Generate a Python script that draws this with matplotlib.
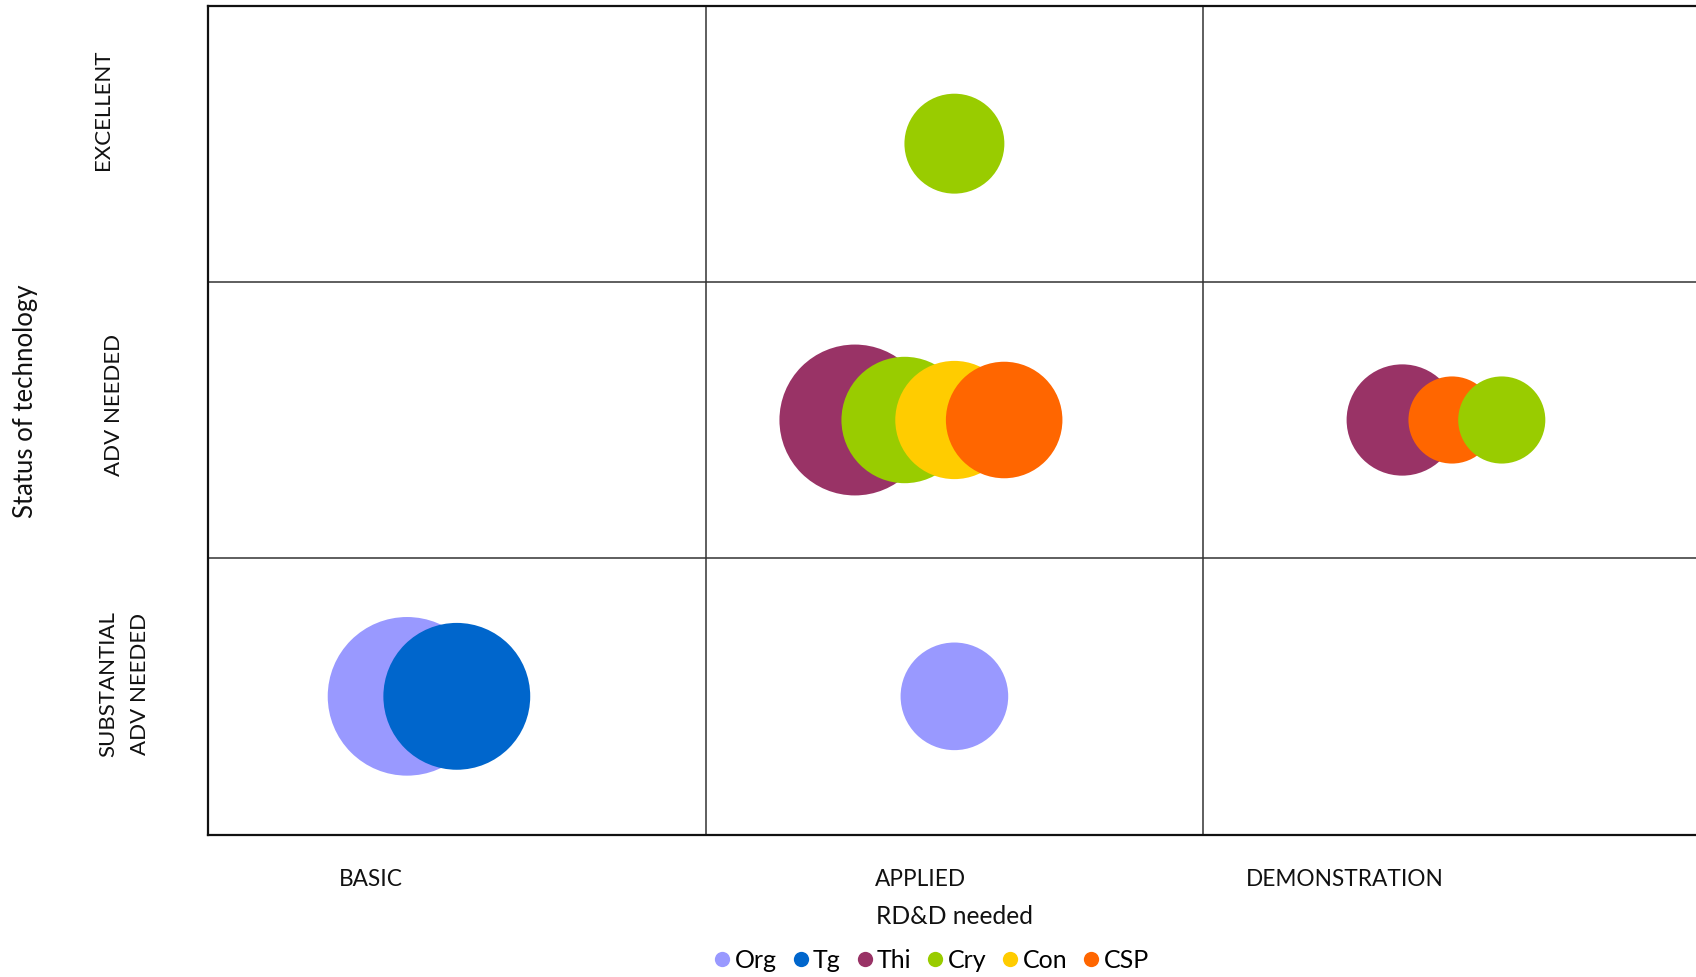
import matplotlib
matplotlib.use("Agg")
import matplotlib.pyplot as plt
from matplotlib.lines import Line2D

# Technology series
series = ["Org", "Tg", "Thi", "Cry", "Con", "CSP"]
colors = ["#9999FF", "#0066CC", "#993366", "#99CC00", "#FFCC00", "#FF6600"]

# Bubble positions (x: RD&D needed, y: status) and bubble sizes per series
org_x, org_y, org_size = [0.4, 1.5], [0.5, 0.5], [6.3, 2.9]
tg_x, tg_y, tg_size = [0.5], [0.5], [5.4]
thi_x, thi_y, thi_size = [1.3, 2.4], [1.5, 1.5], [5.7, 3.1]
cry_x, cry_y, cry_size = [1.5, 1.4, 2.6], [2.5, 1.5, 1.5], [2.5, 4.0, 1.9]
con_x, con_y, con_size = [1.5], [1.5], [3.5]
csp_x, csp_y, csp_size = [1.6, 2.5], [1.5, 1.5], [3.4, 1.9]

x_categories = ["BASIC", "APPLIED", "DEMONSTRATION"]
y_categories = ["EXCELLENT", "ADV NEEDED", "SUBSTANTIAL\nADV NEEDED"]
x_title = "RD&D needed"
y_title = "Status of technology"

W, H, DPI = 1696, 978, 100
FONT = "Lato"
TXT = "#111111"

fig = plt.figure(figsize=(W / DPI, H / DPI), dpi=DPI)
fig.patch.set_facecolor("white")

# plot area (extends slightly past the right edge of the canvas)
left_px, top_px, bottom_px, cell_px = 208, 6.5, 835.5, 497.6
ax = fig.add_axes([left_px / W, 1 - bottom_px / H,
                   3 * cell_px / W, (bottom_px - top_px) / H])
ax.set_xlim(0, 3)
ax.set_ylim(0, 3)
ax.set_xticks([])
ax.set_yticks([])
for sp in ax.spines.values():
    sp.set_color("#111111")
    sp.set_linewidth(1.6)
for v in (1, 2):
    ax.axvline(v, color="#333333", lw=1.1, zorder=0)
    ax.axhline(v, color="#333333", lw=1.1, zorder=0)

# bubble size -> marker area (radius in px proportional to sqrt(size))
px_per_pt = DPI / 72.0
def marker_area(size):
    diam_px = 2 * 31.6 * size ** 0.5
    return (diam_px / px_per_pt) ** 2

data = [
    (org_x, org_y, org_size),
    (tg_x, tg_y, tg_size),
    (thi_x, thi_y, thi_size),
    (cry_x, cry_y, cry_size),
    (con_x, con_y, con_size),
    (csp_x, csp_y, csp_size),
]
points = []
for (xs, ys, ss), c in zip(data, colors):
    for x, y, s in zip(xs, ys, ss):
        points.append((x, y, s, c))
# draw left to right so right-hand bubbles overlap their neighbours
points.sort(key=lambda p: p[0])
for i, (x, y, s, c) in enumerate(points):
    ax.scatter([x], [y], s=marker_area(s), color=c, edgecolors="none",
               zorder=2 + i, clip_on=False)

# category labels along the x direction
x_label_px = [371, 920, 1344.5]
for lab, xp in zip(x_categories, x_label_px):
    fig.text(xp / W, 1 - 880 / H, lab, ha="center", va="center",
             fontsize=16.3, family=FONT, color=TXT)
fig.text(954 / W, 1 - 917 / H, x_title, ha="center", va="center",
         fontsize=17.7, family=FONT, color=TXT)

# category labels along the y direction
y_label_pos = [(103, 110), (114, 405), (124, 684)]
for lab, (xp, yp) in zip(y_categories, y_label_pos):
    fig.text(xp / W, 1 - yp / H, lab, ha="center", va="center",
             rotation=90, fontsize=16, family=FONT, color=TXT,
             multialignment="center", linespacing=1.7)
fig.text(26 / W, 1 - 401 / H, y_title, ha="center", va="center",
         rotation=90, fontsize=18.5, family=FONT, color=TXT)

handles = [Line2D([], [], marker="o", linestyle="none", markersize=11,
                  markerfacecolor=c, markeredgecolor="none") for c in colors]
fig.legend(handles, series, loc="center", bbox_to_anchor=(928 / W, 1 - 961 / H),
           ncol=6, frameon=False, handletextpad=-0.1, columnspacing=0.35,
           handlelength=1.2, prop={"family": FONT, "size": 18})

fig.savefig("out.png", dpi=DPI, facecolor="white")
